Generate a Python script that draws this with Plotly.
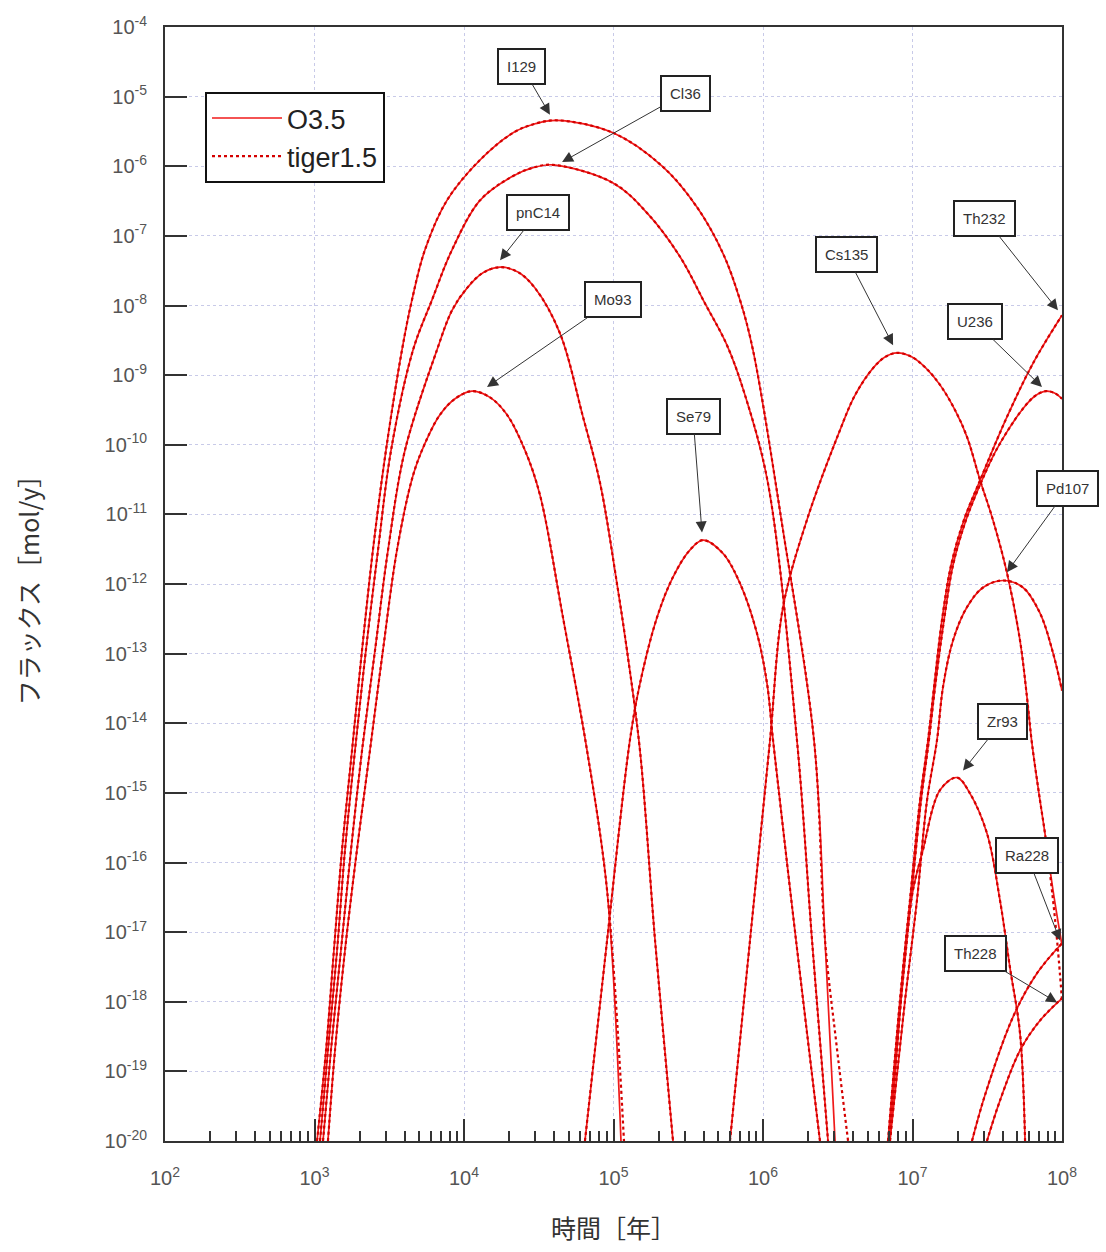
import plotly.graph_objects as go

# Release flux curves per nuclide on the log-log grid.
# *_t : log10(time [year]),  *_f : log10(flux [mol/y])

# ---- O3.5 case ----
i129_t = [3.017, 3.077, 3.130, 3.184, 3.251, 3.318, 3.391, 3.478, 3.585, 3.652, 3.739, 3.886, 4.107, 4.328, 4.475, 4.622,
          4.997, 5.331, 5.559, 5.732, 5.846, 5.933, 6.134, 6.341, 6.415, 6.482]
i129_f = [-20.0, -18.70, -17.26, -15.82, -14.39, -12.95, -11.51, -10.08, -8.64, -7.92, -7.20, -6.49, -5.91, -5.52, -5.39, -5.34,
          -5.52, -6.01, -6.59, -7.25, -7.92, -8.64, -11.23, -14.24, -17.12, -20.0]

cl36_t = [3.037, 3.090, 3.151, 3.204, 3.271, 3.344, 3.425, 3.512, 3.659, 3.786, 3.920, 4.107, 4.328, 4.462, 4.595,
          4.997, 5.224, 5.445, 5.612, 5.759, 5.880, 6.033, 6.227, 6.328, 6.435]
cl36_f = [-20.0, -18.70, -17.26, -15.82, -14.39, -12.95, -11.51, -10.08, -8.64, -7.92, -7.20, -6.49, -6.14, -6.02, -5.98,
          -6.24, -6.67, -7.30, -7.97, -8.57, -9.29, -10.55, -14.24, -17.12, -20.0]

pnc14_t = [3.057, 3.110, 3.177, 3.244, 3.318, 3.405, 3.492, 3.605, 3.819, 3.920, 4.020, 4.127, 4.241,
           4.361, 4.475, 4.642, 4.796, 4.910, 5.023, 5.090, 5.177, 5.278, 5.398]
pnc14_f = [-20.0, -18.70, -17.26, -15.82, -14.39, -12.95, -11.51, -10.08, -8.64, -8.07, -7.75, -7.53, -7.45,
           -7.52, -7.75, -8.40, -9.60, -10.55, -11.99, -12.95, -14.39, -17.12, -20.0]

mo93_t = [3.090, 3.137, 3.204, 3.284, 3.371, 3.458, 3.552, 3.659, 3.739, 3.839, 3.940, 4.054,
          4.174, 4.288, 4.408, 4.508, 4.662, 4.823, 4.957, 5.050]
mo93_f = [-20.0, -18.70, -17.26, -15.82, -14.39, -12.95, -11.51, -10.44, -9.98, -9.57, -9.34, -9.23,
          -9.32, -9.57, -10.08, -10.72, -12.48, -14.39, -16.40, -20.0]

se79_t = [4.809, 4.957, 5.110, 5.177, 5.291, 5.398, 5.512, 5.599, 5.732, 5.846, 5.960, 6.027, 6.067, 6.221, 6.381]
se79_f = [-20.0, -17.12, -14.24, -13.43, -12.48, -11.90, -11.51, -11.37, -11.56, -11.99, -12.71, -13.43, -14.24, -17.12, -20.0]

cs135_t = [5.779, 5.913, 6.047, 6.134, 6.294, 6.515, 6.615, 6.736, 6.816, 6.896, 6.997, 7.090, 7.184, 7.284, 7.365,
           7.452, 7.538, 7.632, 7.719, 7.766, 7.799, 7.853, 7.886, 7.940, 8.000]
cs135_f = [-20.0, -17.12, -14.24, -12.33, -11.08, -9.79, -9.29, -8.90, -8.74, -8.68, -8.74, -8.90, -9.14, -9.50, -9.89,
           -10.51, -11.08, -11.84, -12.81, -13.63, -14.29, -15.11, -15.58, -16.40, -17.19]

th232_t = [6.836, 6.916, 6.983, 7.050, 7.104, 7.144, 7.197, 7.258, 7.344, 7.452, 7.632, 7.806, 8.000]
th232_f = [-20.0, -17.98, -16.54, -15.11, -14.24, -13.48, -12.52, -11.73, -11.08, -10.51, -9.60, -8.83, -8.14]

u236_t = [6.843, 6.923, 6.990, 7.057, 7.110, 7.151, 7.211, 7.271, 7.358, 7.465, 7.552, 7.639, 7.732, 7.819,
          7.893, 7.953, 8.000]
u236_f = [-20.0, -17.98, -16.54, -15.11, -14.24, -13.48, -12.52, -11.73, -11.08, -10.51, -10.11, -9.79, -9.50, -9.30,
          -9.23, -9.26, -9.34]

pd107_t = [6.849, 6.950, 7.030, 7.097, 7.164, 7.204, 7.271, 7.365, 7.472, 7.605, 7.739, 7.853, 7.940, 8.000]
pd107_f = [-20.0, -17.98, -16.54, -15.11, -14.24, -13.48, -12.81, -12.33, -12.05, -11.95, -12.05, -12.42, -12.99, -13.53]

zr93_t = [6.849, 6.896, 6.950, 7.003, 7.070, 7.184, 7.298, 7.385, 7.498, 7.585, 7.652, 7.719, 7.753]
zr93_f = [-20.0, -18.70, -17.26, -16.40, -15.82, -14.96, -14.78, -15.01, -15.58, -16.54, -17.51, -18.45, -20.0]

ra228_t = [7.398, 7.485, 7.672, 7.833, 8.000]
ra228_f = [-20.0, -19.34, -18.22, -17.59, -17.16]

th228_t = [7.498, 7.585, 7.719, 7.853, 8.000]
th228_f = [-20.0, -19.42, -18.70, -18.27, -17.95]

# ---- tiger1.5 case: tails that differ from O3.5 ----
i129_tg_t = [3.017, 3.077, 3.130, 3.184, 3.251, 3.318, 3.391, 3.478, 3.585, 3.652, 3.739, 3.886, 4.107, 4.328, 4.475, 4.622,
             4.997, 5.331, 5.559, 5.732, 5.846, 5.933, 6.134, 6.341, 6.415, 6.488, 6.569]
i129_tg_f = [-20.0, -18.70, -17.26, -15.82, -14.39, -12.95, -11.51, -10.08, -8.64, -7.92, -7.20, -6.49, -5.91, -5.52, -5.39, -5.34,
             -5.52, -6.01, -6.59, -7.25, -7.92, -8.64, -11.23, -14.24, -17.12, -18.55, -20.0]

mo93_tg_t = [3.090, 3.137, 3.204, 3.284, 3.371, 3.458, 3.552, 3.659, 3.739, 3.839, 3.940, 4.054,
             4.174, 4.288, 4.408, 4.508, 4.662, 4.823, 4.957, 5.070]
mo93_tg_f = [-20.0, -18.70, -17.26, -15.82, -14.39, -12.95, -11.51, -10.44, -9.98, -9.57, -9.34, -9.23,
             -9.32, -9.57, -10.08, -10.72, -12.48, -14.39, -16.40, -20.0]

cs135_tg_t = [5.779, 5.913, 6.047, 6.134, 6.294, 6.515, 6.615, 6.736, 6.816, 6.896, 6.997, 7.090, 7.184, 7.284, 7.365,
              7.452, 7.538, 7.632, 7.719, 7.766, 7.799, 7.853, 7.886, 7.940, 7.973, 8.000]
cs135_tg_f = [-20.0, -17.12, -14.24, -12.33, -11.08, -9.79, -9.29, -8.90, -8.74, -8.68, -8.74, -8.90, -9.14, -9.50, -9.89,
              -10.51, -11.08, -11.84, -12.81, -13.63, -14.29, -15.11, -15.58, -16.54, -17.26, -17.98]

o35_series = [
    (i129_t, i129_f), (cl36_t, cl36_f), (pnc14_t, pnc14_f), (mo93_t, mo93_f), (se79_t, se79_f),
    (cs135_t, cs135_f), (th232_t, th232_f), (u236_t, u236_f), (pd107_t, pd107_f), (zr93_t, zr93_f),
    (ra228_t, ra228_f), (th228_t, th228_f),
]
tiger_series = [
    (i129_tg_t, i129_tg_f), (cl36_t, cl36_f), (pnc14_t, pnc14_f), (mo93_tg_t, mo93_tg_f), (se79_t, se79_f),
    (cs135_tg_t, cs135_tg_f), (th232_t, th232_f), (u236_t, u236_f), (pd107_t, pd107_f), (zr93_t, zr93_f),
    (ra228_t, ra228_f), (th228_t, th228_f),
]

# ---- nuclide call-outs: arrow tip (log10 t, log10 flux) and box offset in px ----
label_names = ["I129", "Cl36", "pnC14", "Mo93", "Se79", "Cs135", "Th232", "U236", "Pd107", "Zr93", "Ra228", "Th228"]
label_tip_t = [4.575, 4.656, 4.241, 4.154, 5.592, 6.870, 7.973, 7.866, 7.632, 7.338, 7.987, 7.967]
label_tip_f = [-5.26, -5.94, -7.35, -9.17, -11.26, -8.57, -8.07, -9.17, -11.83, -14.68, -17.12, -18.01]
label_dx = [-28, 123, 38, 126, -9, -47, -73, -67, 61, 39, -33, -82]
label_dy = [-48, -69, -48, -87, -116, -91, -92, -65, -84, -49, -85, -49]

# ---- axis ticks ----
x_tick_exp = [2, 3, 4, 5, 6, 7, 8]
x_tick_text = ["10<sup>2</sup>", "10<sup>3</sup>", "10<sup>4</sup>", "10<sup>5</sup>",
               "10<sup>6</sup>", "10<sup>7</sup>", "10<sup>8</sup>"]
y_tick_exp = [-4, -5, -6, -7, -8, -9, -10, -11, -12, -13, -14, -15, -16, -17, -18, -19, -20]
y_tick_text = ["10<sup>-4</sup>", "10<sup>-5</sup>", "10<sup>-6</sup>", "10<sup>-7</sup>", "10<sup>-8</sup>",
               "10<sup>-9</sup>", "10<sup>-10</sup>", "10<sup>-11</sup>", "10<sup>-12</sup>", "10<sup>-13</sup>",
               "10<sup>-14</sup>", "10<sup>-15</sup>", "10<sup>-16</sup>", "10<sup>-17</sup>", "10<sup>-18</sup>",
               "10<sup>-19</sup>", "10<sup>-20</sup>"]
x_minor_mult = [2, 3, 4, 5, 6, 7, 8, 9]

RED_SOLID = "#f01a1a"
RED_DOT = "#d40000"
AXIS = "#333333"
TEXT = "#555555"
SMOOTH = 1.0


def pw(vals):
    return [10 ** v for v in vals]


fig = go.Figure()

for k, (t, f) in enumerate(o35_series):
    fig.add_trace(go.Scatter(
        x=pw(t), y=pw(f), mode="lines", name="O3.5", legendgroup="O3.5", showlegend=(k == 0),
        line=dict(color=RED_SOLID, width=1.7, shape="spline", smoothing=SMOOTH), hoverinfo="skip",
    ))

for k, (t, f) in enumerate(tiger_series):
    fig.add_trace(go.Scatter(
        x=pw(t), y=pw(f), mode="lines", name="tiger1.5", legendgroup="tiger1.5", showlegend=(k == 0),
        line=dict(color=RED_DOT, width=2.2, dash="dot", shape="spline", smoothing=SMOOTH), hoverinfo="skip",
    ))

for name, tx, ty, dx, dy in zip(label_names, label_tip_t, label_tip_f, label_dx, label_dy):
    fig.add_annotation(
        x=tx, y=ty, xref="x", yref="y", ax=dx, ay=dy, axref="pixel", ayref="pixel",
        text=name, showarrow=True, arrowhead=2, arrowsize=2.2, arrowwidth=1, arrowcolor="#333",
        standoff=0, startstandoff=0,
        font=dict(family="Liberation Sans, Arial, sans-serif", size=15, color="#333"),
        bgcolor="white", bordercolor="#222", borderwidth=2, borderpad=8,
    )

fig.update_layout(
    width=1106, height=1252,
    margin=dict(l=165, r=44, t=27, b=111, autoexpand=False),
    paper_bgcolor="white", plot_bgcolor="white",
    font=dict(family="Liberation Sans, Arial, sans-serif", color=TEXT),
    showlegend=True,
    legend=dict(
        x=0.0446, y=0.9417, xanchor="left", yanchor="top",
        bgcolor="white", bordercolor="#111", borderwidth=2,
        font=dict(family="Liberation Sans, Arial, sans-serif", size=27, color="#222"),
        itemwidth=70, tracegroupgap=0,
    ),
)

fig.update_xaxes(
    type="log", range=[2, 8], autorange=False,
    tickmode="array", tickvals=pw(x_tick_exp), ticktext=x_tick_text,
    ticks="inside", ticklen=22, tickwidth=1.5, tickcolor=AXIS,
    tickfont=dict(size=20, color=TEXT), ticklabelstandoff=18,
    showline=True, linecolor=AXIS, linewidth=2, mirror=True,
    showgrid=True, gridcolor="#c8cae8", griddash="dot", gridwidth=1, zeroline=False,
    minor=dict(tickmode="array", tickvals=[m * 10 ** e for e in x_tick_exp[:-1] for m in x_minor_mult],
               ticks="inside", ticklen=10, tickwidth=1.5, tickcolor=AXIS, showgrid=False),
    title=dict(text="時間［年］", font=dict(family="Noto Sans CJK JP", size=25, color="#333"), standoff=32),
    automargin=False,
)

fig.update_yaxes(
    type="log", range=[-20, -4], autorange=False,
    tickmode="array", tickvals=pw(y_tick_exp), ticktext=y_tick_text,
    ticks="inside", ticklen=22, tickwidth=1.5, tickcolor=AXIS,
    tickfont=dict(size=20, color=TEXT), ticklabelstandoff=12,
    showline=True, linecolor=AXIS, linewidth=2, mirror=True,
    showgrid=True, gridcolor="#c8cae8", griddash="dot", gridwidth=1, zeroline=False,
    title=dict(text="フラックス［mol/y］", font=dict(family="Noto Sans CJK JP", size=25, color="#333"), standoff=58),
    automargin=False,
)

fig.write_html("out.html")
